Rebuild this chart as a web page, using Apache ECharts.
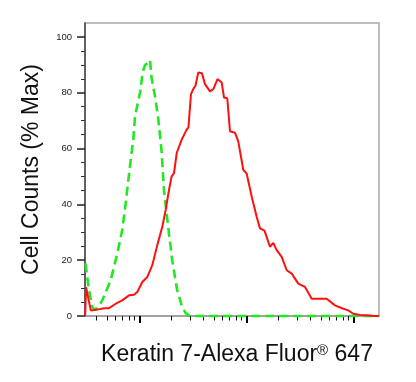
<!DOCTYPE html>
<html>
<head>
<meta charset="utf-8">
<script src="https://cdn.jsdelivr.net/npm/echarts@6/dist/echarts.min.js"></script>
<style>
html,body{margin:0;padding:0;background:#fff;}
#chart{width:416px;height:382px;}
</style>
</head>
<body>
<div id="chart"></div>
<script>
// Fluorescence intensity (log scale) vs. % of max cell count
const redX = [31.2, 31.8, 35.2, 39.2, 46.8, 52.1, 60.2, 69.3, 80.1, 89.2, 95.8, 106.7, 118.8, 132.2, 147.3, 164, 176.5, 189.5, 200, 211, 224, 249, 277, 288, 304, 320, 335, 356, 385, 411, 458, 492, 538, 589, 619, 664, 704, 784, 841, 937, 1009, 1131, 1250, 1343, 1479, 1665, 1786, 1922, 2143, 2386, 2657, 3062, 3537, 4087, 4886, 5642, 6745, 8070, 8985, 10000, 11550, 13340, 15380, 17300];
const redY = [0, 10.3, 2.0, 2.2, 2.8, 2.8, 4.4, 5.6, 7.4, 7.6, 8.6, 12.2, 14.0, 18.2, 25.4, 32.0, 38.0, 45.2, 49.9, 51.2, 58.5, 63.2, 66.8, 67.6, 79.5, 81.4, 82.5, 87.3, 87.0, 83.1, 80.5, 81.3, 84.9, 83.7, 78.3, 78.0, 66.2, 65.7, 62.6, 52.4, 51.0, 42.3, 35.6, 31.4, 30.6, 24.8, 26.2, 23.6, 21.2, 16.4, 15.2, 11.6, 10.4, 6.2, 6.2, 6.2, 3.8, 2.6, 2.0, 0.8, 0.4, 0.3, 0, 0];

const greenX = [31.4, 33.9, 36.4, 38.5, 41.6, 45.1, 54.0, 62.3, 69.3, 74.6, 78.9, 83.6, 87.9, 91.2, 101.6, 107.6, 113, 121.4, 125.9, 130.6, 140.2, 150.7, 162, 170, 183, 203, 226, 252, 271.5, 298, 1000, 17300];
const greenY = [18.8, 9.2, 3.2, 2.2, 3.4, 5.6, 12.8, 22.4, 30.8, 40.4, 48.5, 56.8, 63.2, 71.6, 80.1, 87.3, 89.9, 90.9, 91.7, 84.9, 78.8, 70.5, 58.5, 45.2, 34.4, 20.0, 9.2, 3.2, 1.0, 0, 0, 0];

const yMajorTicks = [0, 20, 40, 60, 80, 100];
const yMinorTicks = [5, 10, 15, 25, 30, 35, 45, 50, 55, 65, 70, 75, 85, 90, 95];
const xMajorTicks = [100, 1000, 10000];
const xMinorTicks = [40, 50, 60, 70, 80, 90, 200, 300, 400, 500, 600, 700, 800, 900, 2000, 3000, 4000, 5000, 6000, 7000, 8000, 9000];

const xMin = 31.08, xMax = 17390, yMin = 0, yMax = 105;
const FONT = "'Liberation Sans', Arial, sans-serif";

const zip = (xs, ys) => xs.map((x, i) => [x, ys[i]]);

const chart = echarts.init(document.getElementById('chart'), null, {renderer: 'canvas'});
chart.setOption({
  animation: false,
  backgroundColor: '#ffffff',
  grid: {
    left: 85, right: 37, top: 23, bottom: 66,
    show: true, borderColor: '#a8a8a8', borderWidth: 1.5, backgroundColor: 'transparent'
  },
  xAxis: [
    {
      type: 'log', min: xMin, max: xMax, position: 'bottom',
      name: 'Keratin 7-Alexa Fluor{sup|®} 647',
      nameLocation: 'middle', nameGap: 27,
      nameTextStyle: {
        fontFamily: FONT, fontSize: 23, color: '#111', padding: [0, 0, 0, 10],
        rich: { sup: { fontFamily: FONT, fontSize: 15, color: '#111', verticalAlign: 'top', padding: [0, 0, 6, 0] } }
      },
      axisLine: { show: true, lineStyle: { color: '#999', width: 1.5 } },
      axisTick: { show: true, customValues: xMajorTicks, length: 7, lineStyle: { color: '#000', width: 2 } },
      axisLabel: { show: false },
      splitLine: { show: false }
    },
    {
      type: 'log', min: xMin, max: xMax, position: 'bottom',
      axisLine: { show: false },
      axisTick: { show: true, customValues: xMinorTicks, length: 4.5, lineStyle: { color: '#111', width: 1 } },
      axisLabel: { show: false },
      splitLine: { show: false }
    }
  ],
  yAxis: [
    {
      type: 'value', min: yMin, max: yMax, position: 'left',
      name: 'Cell Counts (% Max)',
      nameLocation: 'middle', nameGap: 42,
      nameTextStyle: { fontFamily: FONT, fontSize: 23, color: '#111', padding: [0, 0, 0, 0] },
      axisLine: { show: true, lineStyle: { color: '#444', width: 1.5 } },
      axisTick: { show: true, customValues: yMajorTicks, length: 8, lineStyle: { color: '#222', width: 1.5 } },
      axisLabel: { show: true, customValues: yMajorTicks, margin: 13, fontFamily: FONT, fontSize: 9.5, color: '#222' },
      splitLine: { show: false }
    },
    {
      type: 'value', min: yMin, max: yMax, position: 'left',
      axisLine: { show: false },
      axisTick: { show: true, customValues: yMinorTicks, length: 4, lineStyle: { color: '#333', width: 1 } },
      axisLabel: { show: false },
      splitLine: { show: false }
    }
  ],
  series: [
    {
      type: 'line', xAxisIndex: 0, yAxisIndex: 0, data: zip(greenX, greenY),
      showSymbol: false, symbol: 'none', clip: false, z: 3,
      lineStyle: { color: '#22e822', width: 2.6, type: [9, 5] }
    },
    {
      type: 'line', xAxisIndex: 0, yAxisIndex: 0, data: zip(redX, redY),
      showSymbol: false, symbol: 'none', clip: false, z: 4,
      lineStyle: { color: '#ff1010', width: 2 }
    }
  ]
});
</script>
</body>
</html>
